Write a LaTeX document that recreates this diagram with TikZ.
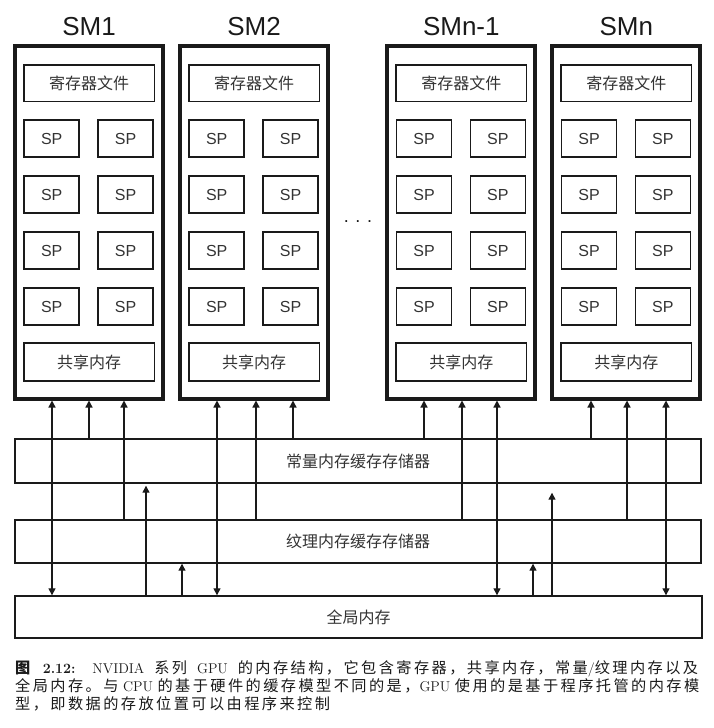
\documentclass[tikz,border=0pt]{standalone}
\usepackage{fontspec}
\newfontfamily\lab{Liberation Sans}
\newfontfamily\cjk{Noto Sans CJK SC}
\newfontfamily\capcjk[LetterSpace=16,Scale=1.07]{Noto Sans CJK SC}
\usetikzlibrary{arrows.meta}
\definecolor{ink}{HTML}{1A1A1A}
\definecolor{txt}{HTML}{333333}
\begin{document}
\begin{tikzpicture}[x=1pt,y=-1pt,
  smbox/.style={draw=ink, line width=4pt, minimum width=148pt, minimum height=352.5pt, inner sep=0pt},
  smlabel/.style={anchor=base, font=\lab\fontsize{26}{30}\selectfont, text=ink, inner sep=0pt},
  inbox/.style={draw=ink, line width=1.5pt, inner sep=0pt, font=\cjk\fontsize{16}{19}\selectfont, text=txt},
  regbox/.style={inbox, minimum width=130.5pt, minimum height=36.5pt},
  spbox/.style={inbox, font=\lab\fontsize{16}{19}\selectfont, minimum width=55pt, minimum height=37pt},
  layer/.style={draw=ink, line width=1.4pt, inner sep=0pt, minimum width=686pt, font=\cjk\fontsize{16}{19}\selectfont, text=txt},
  arr/.style={draw=ink, line width=1.3pt, -{Triangle[width=7pt,length=7pt]}},
  dbl/.style={draw=ink, line width=1.3pt, {Triangle[width=7pt,length=7pt]}-{Triangle[width=7pt,length=7pt]}},
  capline/.style={anchor=base west, inner sep=0pt, text=ink, font=\fontsize{14.2}{18}\selectfont}
]
\useasboundingbox (0,0) rectangle (713,728);

% streaming multiprocessors
\foreach \n/\t/\cx in {1/SM1/89, 2/SM2/254, 3/SMn-1/461.3, 4/SMn/626.3} {
  \node[smlabel] (t\n) at (\cx,35) {\t};
  \node[smbox] (sm\n) at (\cx,222.25) {};
  \node[regbox] (reg\n) at (\cx,83.3) {寄存器文件};
  \foreach \r/\ry in {1/138.5,2/194.5,3/250.5,4/306.5} {
    \node[spbox] (sp\n-\r-l) at (\cx-37.3,\ry) {SP};
    \node[spbox] (sp\n-\r-r) at (\cx+36.5,\ry) {SP};
  }
  \node[regbox, minimum height=38pt] (shm\n) at (\cx,362) {共享内存};
}
\node[font=\lab\fontsize{18}{20}\selectfont, text=ink, inner sep=0pt] (dots) at (358,222) {. . .};

% memory layers
\node[layer, minimum height=44pt] (const) at (358,461) {常量内存缓存存储器};
\node[layer, minimum height=43pt] (tex) at (358,541.5) {纹理内存缓存存储器};
\node[layer, minimum height=42pt, minimum width=687pt] (glob) at (358.5,617) {全局内存};

% x positions of the connectors
\foreach \name/\xx in {a1/52, a2/89, a3/124, b1/217, b2/256, b3/293,
                       c1/424, c2/462, c3/497, d1/591, d2/627, d3/666,
                       g1/146, g2/182, g3/533, g4/552}
  \coordinate (\name) at (\xx,0);

% SM1
\draw[dbl] (sm1.south -| a1) -- (glob.north -| a1);
\draw[arr] (const.north -| a2) -- (sm1.south -| a2);
\draw[arr] (tex.north -| a3) -- (sm1.south -| a3);
% SM2
\draw[dbl] (sm2.south -| b1) -- (glob.north -| b1);
\draw[arr] (tex.north -| b2) -- (sm2.south -| b2);
\draw[arr] (const.north -| b3) -- (sm2.south -| b3);
% SMn-1
\draw[arr] (const.north -| c1) -- (sm3.south -| c1);
\draw[arr] (tex.north -| c2) -- (sm3.south -| c2);
\draw[dbl] (sm3.south -| c3) -- (glob.north -| c3);
% SMn
\draw[arr] (const.north -| d1) -- (sm4.south -| d1);
\draw[arr] (tex.north -| d2) -- (sm4.south -| d2);
\draw[dbl] (sm4.south -| d3) -- (glob.north -| d3);
% global memory feeding the caches
\draw[arr, shorten >=2pt] (glob.north -| g1) -- (const.south -| g1);
\draw[arr] (glob.north -| g2) -- (tex.south -| g2);
\draw[arr] (glob.north -| g3) -- (tex.south -| g3);
\draw[arr, shorten >=9pt] (glob.north -| g4) -- (const.south -| g4);

% caption
\node[capline] (cap1) at (15,673) {\hbox to 683pt{{\capcjk\bfseries 图}\ \textbf{2.12:} NVIDIA {\capcjk 系列} GPU {\capcjk 的内存结构，它包含寄存器，共享内存，常量}/{\capcjk 纹理内存以及}}};
\node[capline] (cap2) at (15,691) {\hbox to 684pt{{\capcjk 全局内存。与} CPU {\capcjk 的基于硬件的缓存模型不同的是，}GPU {\capcjk 使用的是基于程序托管的内存模}}};
\node[capline] (cap3) at (15,709) {{\capcjk 型，即数据的存放位置可以由程序来控制}};
\end{tikzpicture}
\end{document}
